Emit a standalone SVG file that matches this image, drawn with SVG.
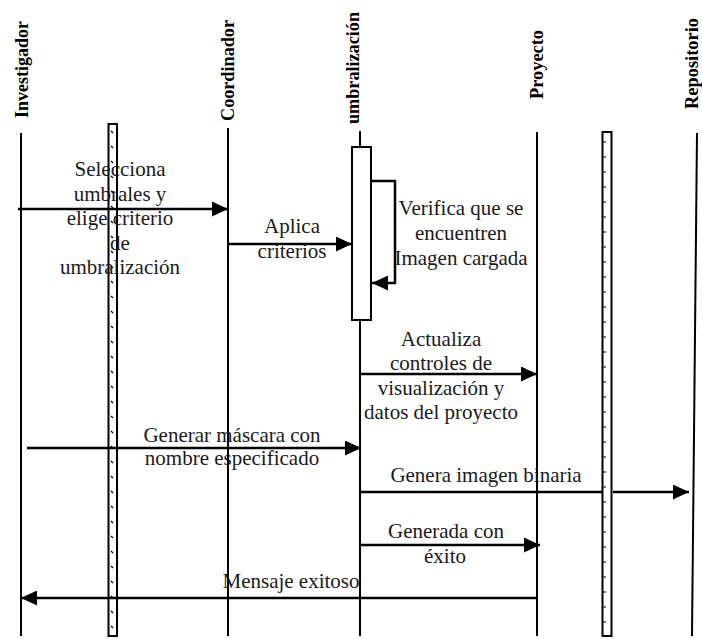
<svg xmlns="http://www.w3.org/2000/svg" width="702" height="639" viewBox="0 0 702 639">
<style>
.lbl{font-family:"Liberation Serif","Times New Roman",serif;font-size:19px;font-weight:bold;fill:#000}
.msg{font-family:"Liberation Serif","Times New Roman",serif;font-size:21px;fill:#1a1a1a;text-anchor:middle}
.life{stroke:#000;stroke-width:2;fill:none}
.arr{stroke:#000;stroke-width:2.5;fill:none}
.strip{fill:#fff;stroke:#000;stroke-width:2}
.tick{stroke:#000;stroke-width:1.2;fill:none}
</style>
<defs>
<marker id="ah" markerUnits="userSpaceOnUse" markerWidth="16" markerHeight="15" refX="16" refY="7.5" orient="auto">
<path d="M0,0 L16,7.5 L0,15 z" fill="#000"/>
</marker>
</defs>
<rect width="702" height="639" fill="#fff"/>
<g id="investigador">
<line class="life" x1="21" y1="133" x2="21" y2="636"/>
<text class="lbl" transform="translate(28,118) rotate(-90)" textLength="97" lengthAdjust="spacingAndGlyphs">Investigador</text>
</g>
<g id="coordinador">
<line class="life" x1="228" y1="128" x2="228" y2="636"/>
<text class="lbl" transform="translate(234,121) rotate(-90)" textLength="101" lengthAdjust="spacingAndGlyphs">Coordinador</text>
</g>
<g id="umbralizacion">
<line class="life" x1="360" y1="131" x2="360" y2="636"/>
<rect class="strip" x="352" y="147" width="19" height="173"/>
<text class="lbl" transform="translate(359,124) rotate(-90)" textLength="112" lengthAdjust="spacingAndGlyphs">umbralización</text>
</g>
<g id="proyecto">
<line class="life" x1="537" y1="132" x2="537" y2="636"/>
<text class="lbl" transform="translate(543,99) rotate(-90)" textLength="69" lengthAdjust="spacingAndGlyphs">Proyecto</text>
</g>
<g id="repositorio">
<line class="life" x1="697" y1="133" x2="692" y2="636"/>
<text class="lbl" transform="translate(698,109) rotate(-90)" textLength="91" lengthAdjust="spacingAndGlyphs">Repositorio</text>
</g>
<g id="strip1">
<rect class="strip" x="108.5" y="124" width="8.5" height="512"/>
<path class="tick" d="M111,131 l2,2 M111,146 l2,2 M111,161 l2,2 M111,176 l2,2 M111,191 l2,2 M111,206 l2,2 M111,221 l2,2 M111,236 l2,2 M111,251 l2,2 M111,266 l2,2 M111,281 l2,2 M111,296 l2,2 M111,311 l2,2 M111,326 l2,2 M111,341 l2,2 M111,356 l2,2 M111,371 l2,2 M111,386 l2,2 M111,401 l2,2 M111,416 l2,2 M111,431 l2,2 M111,446 l2,2 M111,461 l2,2 M111,476 l2,2 M111,491 l2,2 M111,506 l2,2 M111,521 l2,2 M111,536 l2,2 M111,551 l2,2 M111,566 l2,2 M111,581 l2,2 M111,596 l2,2 M111,611 l2,2 M111,626 l2,2"/>
</g>
<g id="strip2">
<rect class="strip" x="602.5" y="132" width="9" height="504"/>
<path class="tick" d="M603,142 h3 M603,157 h3 M603,172 h3 M603,187 h3 M603,202 h3 M603,217 h3 M603,232 h3 M603,247 h3 M603,262 h3 M603,277 h3 M603,292 h3 M603,307 h3 M603,322 h3 M603,337 h3 M603,352 h3 M603,367 h3 M603,382 h3 M603,397 h3 M603,412 h3 M603,427 h3 M603,442 h3 M603,457 h3 M603,472 h3 M603,487 h3 M603,502 h3 M603,517 h3 M603,532 h3 M603,547 h3 M603,562 h3 M603,577 h3 M603,592 h3 M603,607 h3 M603,622 h3"/>
</g>
<g id="connectors">
<line class="arr" x1="18" y1="209" x2="228" y2="209" marker-end="url(#ah)"/>
<line class="arr" x1="228" y1="244" x2="352" y2="244" marker-end="url(#ah)"/>
<path class="arr" d="M371,181 H395 V283 H372" marker-end="url(#ah)"/>
<line class="arr" x1="360" y1="374" x2="537" y2="374" marker-end="url(#ah)"/>
<line class="arr" x1="27" y1="448" x2="361" y2="448" marker-end="url(#ah)"/>
<line class="arr" x1="360" y1="492" x2="602" y2="492"/>
<line class="arr" x1="613" y1="492" x2="689" y2="492" marker-end="url(#ah)"/>
<line class="arr" x1="360" y1="545" x2="540" y2="545" marker-end="url(#ah)"/>
<line class="arr" x1="537" y1="598" x2="21" y2="598" marker-end="url(#ah)"/>
</g>
<g id="labels">
<text class="msg" x="120" y="176">Selecciona</text>
<text class="msg" x="120" y="201">umbrales y</text>
<text class="msg" x="120" y="225">elige criterio</text>
<text class="msg" x="120" y="250">de</text>
<text class="msg" x="120" y="274">umbralización</text>
<text class="msg" x="292" y="233">Aplica</text>
<text class="msg" x="292" y="258">criterios</text>
<text class="msg" x="461" y="215">Verifica que se</text>
<text class="msg" x="461" y="240">encuentren</text>
<text class="msg" x="461" y="265">Imagen cargada</text>
<text class="msg" x="441" y="346">Actualiza</text>
<text class="msg" x="441" y="370">controles de</text>
<text class="msg" x="441" y="395">visualización y</text>
<text class="msg" x="441" y="419">datos del proyecto</text>
<text class="msg" x="232" y="442">Generar máscara con</text>
<text class="msg" x="232" y="465">nombre especificado</text>
<text class="msg" x="486" y="482">Genera imagen binaria</text>
<text class="msg" x="446" y="538">Generada con</text>
<text class="msg" x="445" y="563">éxito</text>
<text class="msg" x="291" y="588">Mensaje exitoso</text>
</g>
</svg>
